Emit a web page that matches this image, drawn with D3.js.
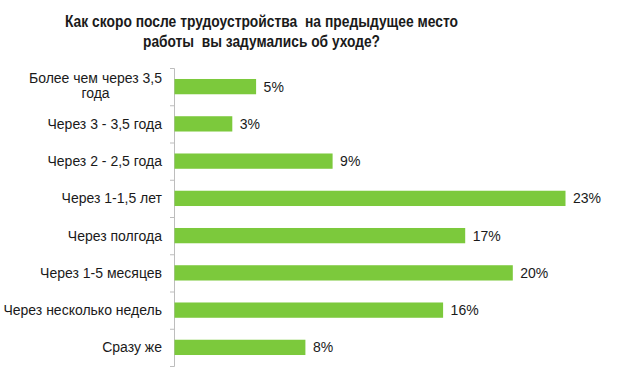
<!DOCTYPE html>
<html>
<head>
<meta charset="utf-8">
<script src="https://cdn.jsdelivr.net/npm/d3@7"></script>
<style>
  body { margin: 0; background: #fff; }
  text { font-family: "Liberation Sans", Arial, sans-serif; fill: #1a1a1a; }
  .title { font-family: "Liberation Sans Narrow", "Liberation Sans", Arial, sans-serif; font-weight: bold; font-size: 17px; white-space: pre; }
</style>
</head>
<body>
<svg id="chart"></svg>
<script>
const width = 620, height = 391;

// data
const categories = [
  "Более чем через 3,5 года",
  "Через 3 - 3,5 года",
  "Через 2 - 2,5 года",
  "Через 1-1,5 лет",
  "Через полгода",
  "Через 1-5 месяцев",
  "Через несколько недель",
  "Сразу же"
];
const values = [4.8, 3.4, 9.3, 23, 17.1, 19.9, 15.8, 7.7];
const valueLabels = ["5%", "3%", "9%", "23%", "17%", "20%", "16%", "8%"];
const titleLines = ["Как скоро после трудоустройства  на предыдущее место", "работы  вы задумались об уходе?"];

const svg = d3.select("#chart")
    .attr("width", width)
    .attr("height", height);

// title
const titleWidths = [393, 237];
svg.selectAll("text.title")
    .data(titleLines)
    .enter()
    .append("text")
    .attr("class", "title")
    .attr("x", 261.5)
    .attr("y", (d, i) => 27 + i * 20)
    .attr("text-anchor", "middle")
    .attr("textLength", (d, i) => titleWidths[i])
    .attr("lengthAdjust", "spacingAndGlyphs")
    .text(d => d);

// scales
const x = d3.scaleLinear()
    .domain([0, 25])
    .range([174, 174 + 25 * 17]);

const y = d3.scaleBand()
    .domain(categories)
    .range([68, 366]);

const barH = y.bandwidth() * 0.41;

// axis (ticks sit on band boundaries)
const yTicks = d3.scaleLinear().domain([0, categories.length]).range([68, 366]);
const axis = svg.append("g")
    .attr("transform", `translate(${x(0)},0)`)
    .call(d3.axisLeft(yTicks).ticks(categories.length).tickSize(4).tickFormat("").tickSizeOuter(4));
axis.selectAll("path, line").attr("stroke", "#bdbdbd");

// bars
svg.selectAll("rect.bar")
    .data(values)
    .enter()
    .append("rect")
    .attr("class", "bar")
    .attr("x", x(0) + 0.5)
    .attr("y", (d, i) => y(categories[i]) + (y.bandwidth() - barH) / 2)
    .attr("width", d => x(d) - x(0))
    .attr("height", barH)
    .attr("fill", "#7cc93c");

// value labels
svg.selectAll("text.val")
    .data(values)
    .enter()
    .append("text")
    .attr("class", "val")
    .attr("x", d => x(d) + 8)
    .attr("y", (d, i) => y(categories[i]) + y.bandwidth() / 2)
    .attr("dy", "0.35em")
    .style("font-size", "14px")
    .text((d, i) => valueLabels[i]);

// category labels
const labelX = 162;
svg.selectAll("text.cat")
    .data(categories)
    .enter()
    .append("text")
    .attr("class", "cat")
    .style("font-size", "14px")
    .attr("text-anchor", "end")
    .attr("x", labelX)
    .attr("y", d => y(d) + y.bandwidth() / 2)
    .attr("dy", "0.35em")
    .each(function (d) {
        if (d === categories[0]) {
            const t = d3.select(this);
            const first = "Более чем через 3,5";
            t.text(first);
            const w = this.getComputedTextLength();
            t.text(null).attr("dy", null);
            const cy = y(d) + y.bandwidth() / 2;
            t.append("tspan").attr("x", labelX).attr("y", cy - 4).text(first);
            t.append("tspan").attr("x", labelX - w / 2).attr("y", cy + 11)
                .attr("text-anchor", "middle").text("года");
        } else {
            d3.select(this).text(d);
        }
    });
</script>
</body>
</html>
